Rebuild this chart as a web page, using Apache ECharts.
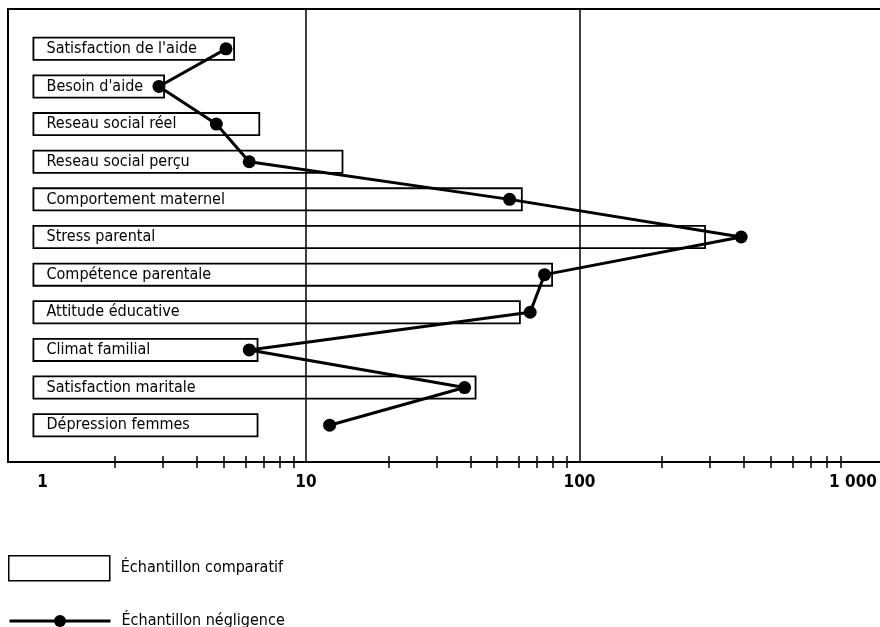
<!DOCTYPE html>
<html>
<head>
<meta charset="utf-8">
<script src="https://cdn.jsdelivr.net/npm/echarts@6/dist/echarts.min.js"></script>
<style>
html, body { margin: 0; padding: 0; background: #fff; }
#chart { width: 880px; height: 627px; }
</style>
</head>
<body>
<div id="chart"></div>
<script>
// rows, top to bottom
const categories = [
    "Satisfaction de l'aide",
    "Besoin d'aide",
    "Reseau social réel",
    "Reseau social perçu",
    "Comportement maternel",
    "Stress parental",
    "Compétence parentale",
    "Attitude éducative",
    "Climat familial",
    "Satisfaction maritale",
    "Dépression femmes"
];
const comparatif = [5.5, 3.05, 6.8, 13.7, 62, 290, 80, 61, 6.7, 42, 6.7];
const negligence = [5.1, 2.9, 4.7, 6.2, 55.5, 390, 74.5, 66, 6.2, 38, 12.2];

const labelValues = [1, 10, 100, 1000];
const tickValues = [2, 3, 4, 5, 6, 7, 8, 9, 20, 30, 40, 50, 60, 70, 80, 90,
    200, 300, 400, 500, 600, 700, 800, 900];
const gridLines = [10, 100];

const FONT = "'DejaVu Sans Condensed', 'Liberation Sans', sans-serif";
const xMin = 0.8136, xMax = 1309;

const chart = echarts.init(document.getElementById('chart'));

const frameLine = {show: true, lineStyle: {color: '#000', width: 2}};

chart.setOption({
    animation: false,
    backgroundColor: '#fff',
    grid: [
        // frame + axis
        {left: 8, right: -5, top: 9, bottom: 165, outerBoundsMode: 'none', containLabel: false},
        // bars
        {left: 8, right: -5, top: 30, bottom: 183, outerBoundsMode: 'none', containLabel: false}
    ],
    xAxis: [
        {
            type: 'log', gridIndex: 0, min: xMin, max: xMax, position: 'bottom',
            axisLine: frameLine,
            axisTick: {show: true, customValues: tickValues, length: 6, inside: false,
                lineStyle: {color: '#000', width: 1.5}},
            axisLabel: {
                customValues: labelValues, margin: 12, color: '#000',
                fontSize: 17, fontWeight: 'bold', fontFamily: FONT,
                formatter: function (v) {
                    if (v === 1) return '{one|1}';
                    return v === 1000 ? '1 000' : String(v);
                },
                rich: {one: {padding: [0, 0, 0, 20], fontSize: 17, fontWeight: 'bold',
                    fontFamily: FONT, color: '#000'}}
            },
            splitLine: {show: false}
        },
        {
            type: 'log', gridIndex: 0, min: xMin, max: xMax, position: 'bottom',
            axisLine: {show: false},
            axisTick: {show: true, customValues: tickValues, length: 6, inside: true,
                lineStyle: {color: '#000', width: 1.5}},
            axisLabel: {show: false},
            splitLine: {show: false}
        },
        {
            type: 'log', gridIndex: 0, min: xMin, max: xMax, position: 'top',
            axisLine: frameLine, axisTick: {show: false}, axisLabel: {show: false},
            splitLine: {show: false}
        },
        {type: 'log', gridIndex: 1, min: xMin, max: xMax, show: false}
    ],
    yAxis: [
        {type: 'value', gridIndex: 0, min: 0, max: 1, position: 'left',
            axisLine: frameLine, axisTick: {show: false}, axisLabel: {show: false},
            splitLine: {show: false}},
        {type: 'category', gridIndex: 1, data: categories, inverse: true, show: false}
    ],
    legend: [
        {
            data: ['Échantillon comparatif'], left: 8, top: 555, padding: 0,
            icon: 'rect', itemWidth: 101, itemHeight: 25,
            itemStyle: {color: '#fff', borderColor: '#000', borderWidth: 1.5},
            textStyle: {color: '#000', fontSize: 16, fontFamily: FONT, padding: [0, 0, 0, 6]}
        },
        {
            data: ['Échantillon négligence'], left: 8, top: 613, padding: 0,
            itemWidth: 101, itemHeight: 15,
            lineStyle: {color: '#000', width: 3},
            itemStyle: {color: '#000'},
            textStyle: {color: '#000', fontSize: 16, fontFamily: FONT, padding: [0, 0, 0, 6]}
        }
    ],
    series: [
        {
            type: 'line', xAxisIndex: 0, yAxisIndex: 0, data: [], z: 1, silent: true,
            markLine: {
                silent: true, symbol: ['none', 'none'], label: {show: false},
                lineStyle: {color: '#000', width: 1.5, type: 'solid'},
                data: gridLines.map(function (v) { return {xAxis: v}; })
            }
        },
        {
            name: 'Échantillon comparatif', type: 'bar', xAxisIndex: 3, yAxisIndex: 1,
            data: comparatif, barWidth: 24, z: 2,
            itemStyle: {color: '#fff', borderColor: '#000', borderWidth: 1.8},
            label: {show: true, position: 'insideLeft', distance: 14, formatter: '{b}',
                color: '#000', fontSize: 16, fontFamily: FONT}
        },
        {
            name: 'Échantillon négligence', type: 'line', xAxisIndex: 3, yAxisIndex: 1,
            data: negligence, z: 3, symbol: 'circle', symbolSize: 13,
            lineStyle: {color: '#000', width: 3},
            itemStyle: {color: '#000'}
        }
    ]
});
</script>
</body>
</html>
